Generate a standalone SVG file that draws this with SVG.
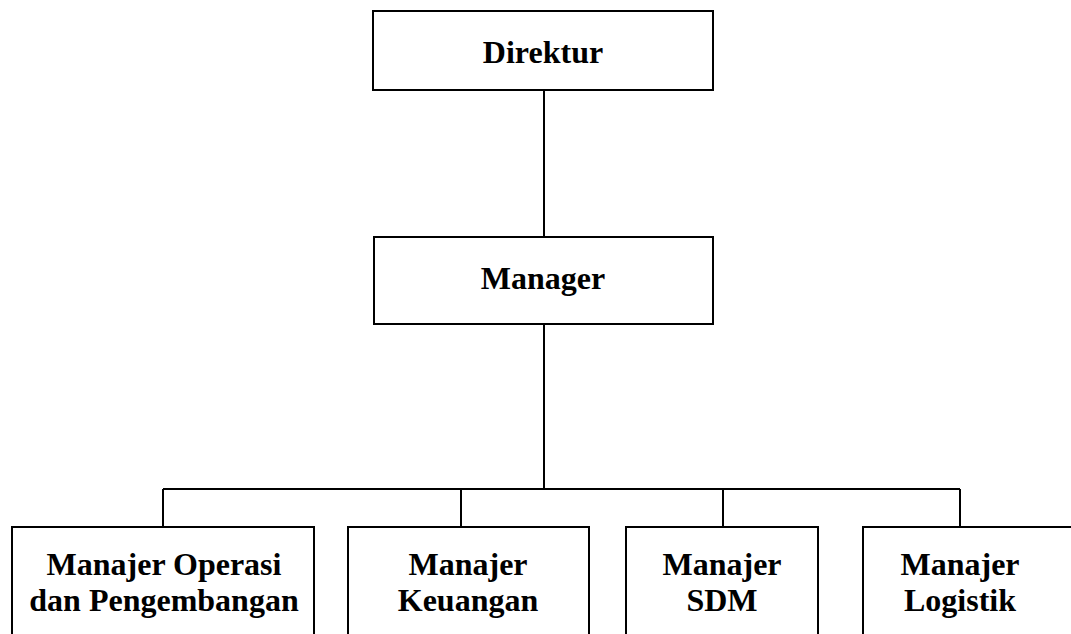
<svg xmlns="http://www.w3.org/2000/svg" width="1071" height="634" viewBox="0 0 1071 634">
<style>
.box{fill:#fff;stroke:#000;stroke-width:2}
.t{font-family:"Liberation Serif","Times New Roman",serif;font-weight:bold;font-size:32px;fill:#000;text-anchor:middle}
.c{fill:none;stroke:#000;stroke-width:2}
</style>
<rect width="1071" height="634" fill="#fff"/>
<g id="connectors">
<path class="c" d="M544 90 V237"/>
<path class="c" d="M544 324 V489"/>
<path class="c" d="M163 489 H960"/>
<path class="c" d="M163 489 V527"/>
<path class="c" d="M461 489 V527"/>
<path class="c" d="M723 489 V527"/>
<path class="c" d="M960 489 V527"/>
</g>
<g id="direktur">
<rect class="box" x="373" y="11" width="340" height="79"/>
<text class="t" x="543" y="63">Direktur</text>
</g>
<g id="manager">
<rect class="box" x="374" y="237" width="339" height="87"/>
<text class="t" x="543" y="289">Manager</text>
</g>
<g id="manajer-operasi">
<rect class="box" x="12" y="527" width="302" height="120"/>
<text class="t" x="164" y="575">Manajer Operasi</text>
<text class="t" x="164" y="611">dan Pengembangan</text>
</g>
<g id="manajer-keuangan">
<rect class="box" x="348" y="527" width="241" height="120"/>
<text class="t" x="468" y="575">Manajer</text>
<text class="t" x="468" y="611">Keuangan</text>
</g>
<g id="manajer-sdm">
<rect class="box" x="626" y="527" width="192" height="120"/>
<text class="t" x="722" y="575">Manajer</text>
<text class="t" x="722" y="611">SDM</text>
</g>
<g id="manajer-logistik">
<rect class="box" x="863" y="527" width="220" height="120"/>
<text class="t" x="960" y="575">Manajer</text>
<text class="t" x="960" y="611">Logistik</text>
</g>
</svg>
